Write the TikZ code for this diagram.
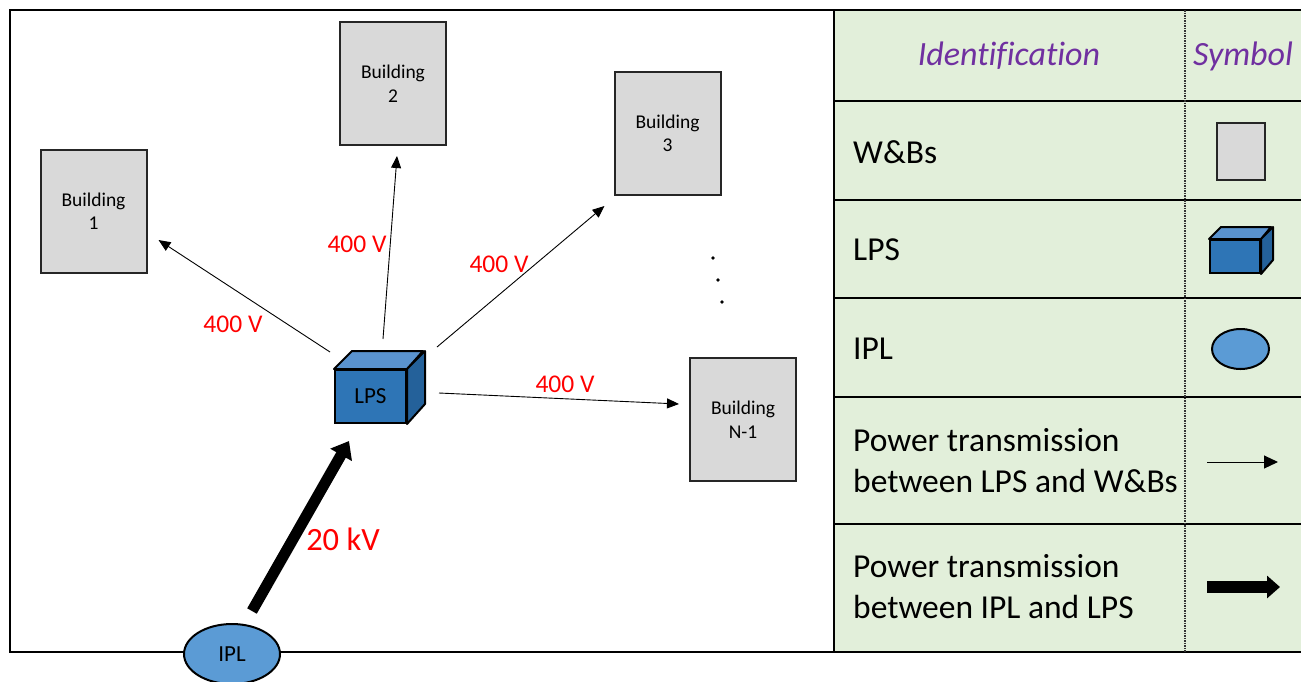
\documentclass[tikz,border=0pt]{standalone}
\usepackage{fontspec}
\setmainfont{Carlito}[Ligatures=NoCommon]
\usetikzlibrary{shapes.geometric,arrows.meta}
\definecolor{legbg}{HTML}{E2EFDA}
\definecolor{bldgray}{HTML}{D9D9D9}
\definecolor{cubefront}{HTML}{2E75B6}
\definecolor{cubetop}{HTML}{5A93CF}
\definecolor{cubeside}{HTML}{24619A}
\definecolor{iplblue}{HTML}{5B9BD5}
\definecolor{hdrpurple}{HTML}{7030A0}
\definecolor{lblred}{HTML}{FF0000}
\begin{document}
\begin{tikzpicture}[x=1pt,y=-1pt,
  bld/.style={draw=black!85, line width=2pt, fill=bldgray, minimum width=106pt, minimum height=123pt, align=center, inner sep=0pt, font=\fontsize{19.5}{23.5}\selectfont},
  thinarr/.style={line width=0.9pt, -{Triangle[length=12pt,width=10pt]}},
  thickarr/.style={line width=11pt, -{Triangle[length=16pt,width=24pt]}},
  volt/.style={text=lblred, font=\fontsize{25.5}{29}\selectfont, inner sep=0pt},
  legtxt/.style={anchor=west, align=left, inner sep=0pt, font=\fontsize{33.5}{41}\selectfont},
  hdr/.style={text=hdrpurple, inner sep=0pt, font=\fontsize{34}{41}\selectfont\itshape},
  rule/.style={line width=2pt, black}
]
\useasboundingbox (0,0) rectangle (1301,681);
% legend background
\fill[legbg] (834,10) rectangle (1305,652);
% frame
\draw[line width=2.5pt] (1305,10) -- (10,10) -- (10,652) -- (1305,652);
\draw[line width=2.5pt] (834,10) -- (834,652);
% legend rules
\foreach \yy in {101,200,298,397,524} \draw[rule] (834,\yy) -- (1305,\yy);
\draw[black!80, line width=1.2pt, dash pattern=on 1.5pt off 1pt] (1185,10) -- (1185,652);

% buildings
\node[bld] (b1) at (93.5,211) {Building\\1};
\node[bld] (b2) at (393,83.5) {Building\\2};
\node[bld] (b3) at (667.5,133.5) {Building\\3};
\node[bld] (bn) at (743,419.5) {Building\\N-1};

% LPS cube
\node[draw, line width=2pt, fill=cubefront, minimum width=71pt, minimum height=53pt, inner sep=0pt, font=\fontsize{23}{27}\selectfont] (lps) at (370.5,396.5) {LPS};
\draw[line width=2pt, fill=cubetop, line join=round] (lps.north west) -- ++(18,-18) -- ++(71,0) -- (lps.north east) -- cycle;
\draw[line width=2pt, fill=cubeside, line join=round] (lps.north east) -- ++(18,-18) -- ++(0,53) -- (lps.south east) -- cycle;

% IPL
\node[ellipse, draw, line width=2pt, fill=iplblue, minimum width=96pt, minimum height=60pt, inner sep=0pt, font=\fontsize{23}{27}\selectfont] (ipl) at (232,654) {IPL};

% arrows
\draw[thinarr] ([shift={(-4,-17)}]lps.north west) -- ([shift={(11,29)}]b1.east);
\draw[thinarr] ([shift={(12.5,-30)}]lps.north) -- ([shift={(4,10)}]b2.south);
\draw[thinarr] ([shift={(30,-22)}]lps.north east) -- ([shift={(-9,10)}]b3.south west);
\draw[thinarr] ([shift={(32,-3.5)}]lps.east) -- ([shift={(-10,-15.5)}]bn.west);
\draw[thickarr] ([shift={(20,-12)}]ipl.north) -- ([shift={(15,17)}]lps.south west);

% voltage labels
\node[volt] (v1) at (233,324) {400 V};
\node[volt] (v2) at (357,244) {400 V};
\node[volt] (v3) at (499,264) {400 V};
\node[volt] (v4) at (565,384) {400 V};
\node[volt, font=\fontsize{32.5}{36}\selectfont] (v5) at (343,539) {20 kV};

% dots
\fill (713,258) circle (1.8);
\fill (718,280) circle (1.8);
\fill (722,302) circle (1.8);

% legend text
\node[hdr] (h1) at (1009,56) {Identification};
\node[hdr] (h2) at (1243,56) {Symbol};
\node[legtxt] (t1) at (853,152) {W\&Bs};
\node[legtxt] (t2) at (853,250) {LPS};
\node[legtxt] (t3) at (853,349) {IPL};
\node[legtxt] (t4) at (853,461) {Power transmission\\between LPS and W\&Bs};
\node[legtxt] (t5) at (853,587) {Power transmission\\between IPL and LPS};

% legend symbols
\node[draw=black!85, line width=2pt, fill=bldgray, minimum width=48pt, minimum height=57pt, inner sep=0pt] (sb) at (1241,151.5) {};
\node[draw, line width=2pt, fill=cubefront, minimum width=50pt, minimum height=33pt, inner sep=0pt] (sl) at (1235,256.5) {};
\draw[line width=2pt, fill=cubetop, line join=round] (sl.north west) -- ++(12,-12) -- ++(50,0) -- (sl.north east) -- cycle;
\draw[line width=2pt, fill=cubeside, line join=round] (sl.north east) -- ++(12,-12) -- ++(0,33) -- (sl.south east) -- cycle;
\node[ellipse, draw, line width=2pt, fill=iplblue, minimum width=57pt, minimum height=40pt, inner sep=0pt] (si) at (1240.5,349) {};
\coordinate (ta) at (1207,462);
\coordinate (tb) at (1278,462);
\draw[line width=1pt, -{Triangle[length=14pt,width=13pt]}] (ta) -- (tb);
\coordinate (ka) at (1207,587);
\coordinate (kb) at (1280,587);
\draw[line width=12pt, -{Triangle[length=13pt,width=22pt]}] (ka) -- (kb);
\end{tikzpicture}
\end{document}
